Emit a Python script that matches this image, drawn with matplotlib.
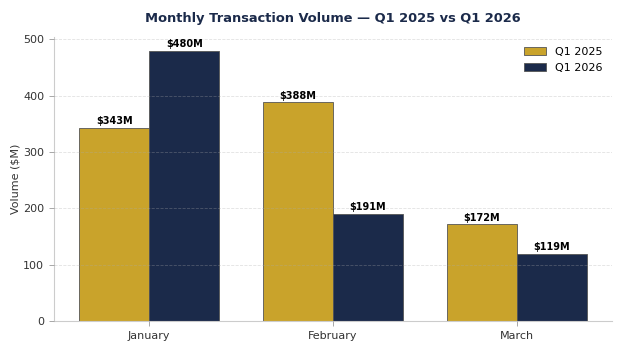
import matplotlib.pyplot as plt
import numpy as np

months = ['January', 'February', 'March']
q1_2025 = [343, 388, 172]
q1_2026 = [480, 191, 119]

gold = '#C9A32B'
navy = '#1B2A4A'

fig, ax = plt.subplots(figsize=(6.24, 3.51), dpi=100)
x = np.arange(len(months))
w = 0.38

b1 = ax.bar(x - w / 2, q1_2025, w, color=gold, edgecolor='#555555', linewidth=0.6, label='Q1 2025')
b2 = ax.bar(x + w / 2, q1_2026, w, color=navy, edgecolor='#555555', linewidth=0.6, label='Q1 2026')

# value labels above bars
for bars, vals in [(b1, q1_2025), (b2, q1_2026)]:
    for bar, v in zip(bars, vals):
        ax.text(bar.get_x() + bar.get_width() / 2, v + 3, f'${v}M',
                ha='center', va='bottom', fontsize=7, fontweight='bold', color='black')

ax.set_title('Monthly Transaction Volume — Q1 2025 vs Q1 2026',
             fontsize=9.4, fontweight='bold', color=navy, pad=11)
ax.set_ylabel('Volume ($M)', fontsize=8, color='#333333', labelpad=2)
ax.set_xticks(x)
ax.set_xticklabels(months)
ax.tick_params(axis='both', labelsize=8, colors='#333333')
ax.tick_params(color='#999999', width=0.6)
ax.set_ylim(0, 504)

ax.grid(axis='y', linestyle='--', color='#aaaaaa', alpha=0.35, linewidth=0.6)
ax.set_axisbelow(False)
for s in ['top', 'right']:
    ax.spines[s].set_visible(False)
for s in ['left', 'bottom']:
    ax.spines[s].set_color('#cccccc')
    ax.spines[s].set_linewidth(0.8)

ax.legend(loc='upper right', frameon=False, fontsize=8)

fig.subplots_adjust(left=0.0865, right=0.981, top=0.8946, bottom=0.0846)
fig.savefig('out.png', dpi=100)
